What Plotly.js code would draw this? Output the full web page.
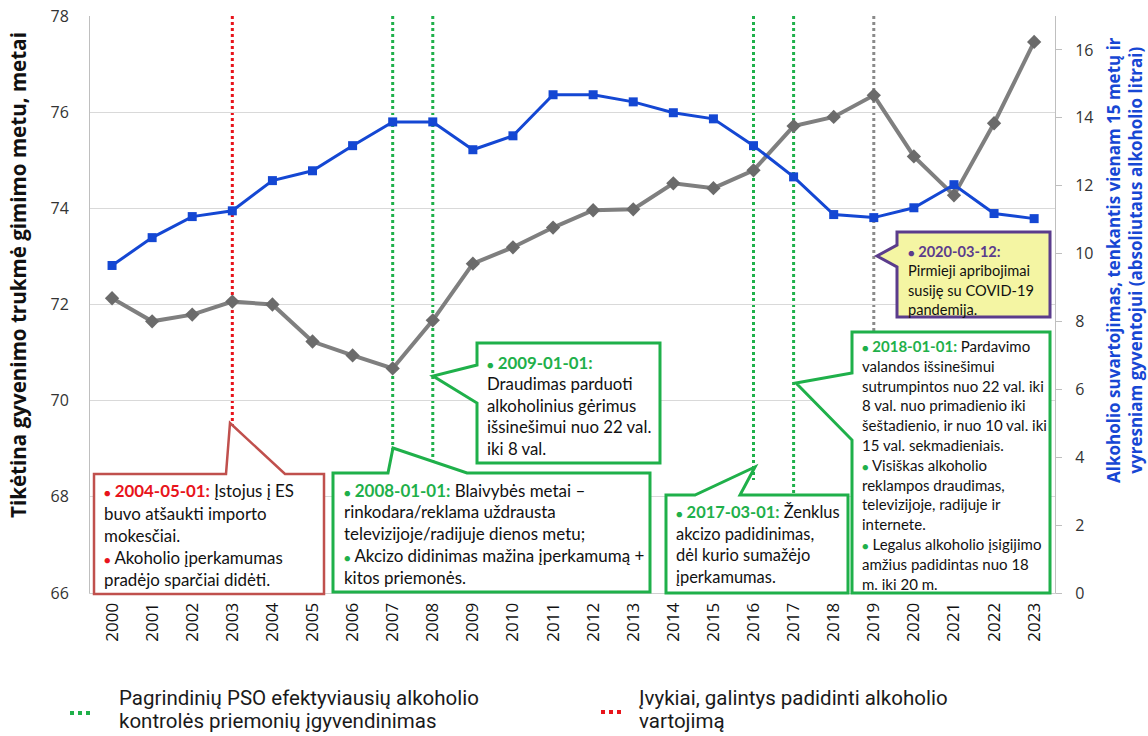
<!DOCTYPE html>
<html><head><meta charset="utf-8">
<script src="https://cdn.plot.ly/plotly-3.0.1.min.js"></script>
<style>html,body{margin:0;padding:0;background:#fff}#chart{width:1148px;height:736px}</style>
</head><body><div id="chart"></div>
<script>
// ---- data ----
const years = [2000,2001,2002,2003,2004,2005,2006,2007,2008,2009,2010,2011,2012,2013,2014,2015,2016,2017,2018,2019,2020,2021,2022,2023];
const xTickLabels = years.map(String);
const lifeExpectancy = [72.13,71.65,71.79,72.06,72.0,71.23,70.94,70.67,71.67,72.85,73.19,73.6,73.96,73.98,74.52,74.42,74.79,75.71,75.9,76.35,75.08,74.27,75.77,77.46];
const alcoholPerCapita = [9.65,10.47,11.09,11.26,12.15,12.44,13.18,13.88,13.88,13.06,13.47,14.68,14.68,14.47,14.15,13.97,13.18,12.26,11.15,11.06,11.35,12.03,11.18,11.03];
const leftTicks = [66,68,70,72,74,76,78];
const rightTicks = [0,2,4,6,8,10,12,14,16];
const redEventYears = [2003];
const greenEventYears = [2007,2008,2016,2017];
const grayEventYears = [2019];

const leftTitle = "Tikėtina gyvenimo trukmė gimimo metu, metai";
const rightTitleLines = ["Alkoholio suvartojimas, tenkantis vienam 15 metų ir","vyresniam gyventojui (absoliutaus alkoholio litrai)"];
const legendGreen = ["Pagrindinių PSO efektyviausių alkoholio","kontrolės priemonių įgyvendinimas"];
const legendRed = ["Įvykiai, galintys padidinti alkoholio","vartojimą"];

const RED = "#e8141b", GREEN = "#1fb04a", PURPLE = "#5b3c8c";
const B = () => "<span style='font-size:11px'>●</span> ";
const noteRed = [
  "<b><span style='color:"+RED+"'>"+B()+"2004-05-01:</span></b> Įstojus į ES",
  "buvo atšaukti importo","mokesčiai.",
  "<span style='color:"+RED+"'>"+B()+"</span>Akoholio įperkamumas",
  "pradėjo sparčiai didėti."];
const note2008 = [
  "<b><span style='color:"+GREEN+"'>"+B()+"2008-01-01:</span></b> Blaivybės metai –",
  "rinkodara/reklama uždrausta","televizijoje/radijuje dienos metu;",
  "<span style='color:"+GREEN+"'>"+B()+"</span>Akcizo didinimas mažina įperkamumą +",
  "kitos priemonės."];
const note2009 = [
  "<b><span style='color:"+GREEN+"'>"+B()+"2009-01-01:</span></b>",
  "Draudimas parduoti","alkoholinius gėrimus","išsinešimui nuo 22 val.","iki 8 val."];
const note2017 = [
  "<b><span style='color:"+GREEN+"'>"+B()+"2017-03-01:</span></b> Ženklus",
  "akcizo padidinimas,","dėl kurio sumažėjo","įperkamumas."];
const note2018 = [
  "<b><span style='color:"+GREEN+"'>"+B()+"2018-01-01:</span></b> Pardavimo",
  "valandos išsinešimui","sutrumpintos nuo 22 val. iki","8 val. nuo primadienio iki",
  "šeštadienio, ir nuo 10 val. iki","15 val. sekmadieniais.",
  "<span style='color:"+GREEN+"'>"+B()+"</span>Visiškas alkoholio",
  "reklampos draudimas,","televizijoje, radijuje ir","internete.",
  "<span style='color:"+GREEN+"'>"+B()+"</span>Legalus alkoholio įsigijimo",
  "amžius padidintas nuo 18","m. iki 20 m."];
const note2020 = [
  "<b><span style='color:"+PURPLE+"'>"+B()+"2020-03-12:</span></b>",
  "Pirmieji apribojimai","susiję su COVID-19","pandemija."];

// ---- layout helpers ----
const PL=90, PR=1055, PT=16, PB=593;
const px = x => (x-PL)/(PR-PL);
const py = y => (PB-y)/(PB-PT);
const path = pts => "M " + pts.map(p => px(p[0]).toFixed(5)+","+py(p[1]).toFixed(5)).join(" L ") + " Z";

const ctx = document.createElement("canvas").getContext("2d");
function fit(pairs, family, weight){
  let s = 0;
  pairs.forEach(([t,w]) => { ctx.font = (weight||"normal")+" 100px "+family; s += 100*w/ctx.measureText(t).width; });
  return s/pairs.length;
}
const CF = "Lato, 'Noto Sans', sans-serif";
const sRed  = fit([["buvo atšaukti importo",162],["pradėjo sparčiai didėti.",167]], CF);
const s2008 = fit([["rinkodara/reklama uždrausta",213],["televizijoje/radijuje dienos metu;",240]], CF);
const s2009 = fit([["alkoholinius gėrimus",150],["Draudimas parduoti",145]], CF);
const s2017 = 0.97*fit([["akcizo padidinimas,",143],["dėl kurio sumažėjo",138]], CF);
const s2018 = fit([["valandos išsinešimui",132],["15 val. sekmadieniais.",142],["reklampos draudimas,",144]], CF);
const s2020 = fit([["Pirmieji apribojimai",127],["susiję su COVID-19",121]], CF);
const LF = "Roboto, sans-serif";
const sLeg = Math.min(20.5, fit([[legendGreen[0],415],[legendGreen[1],362],[legendRed[0],365]], LF));
const TF = "'Open Sans', sans-serif";
const sLeftTitle = fit([[leftTitle,486]], TF, "bold");
const sRightTitle = fit([[rightTitleLines[0],446]], TF, "bold");

const shapes = [];
const annotations = [];

function vline(yr, color, yEnd){
  shapes.push({type:"line", layer:"below", xref:"x", yref:"paper", x0:yr, x1:yr, y0:1, y1:py(yEnd),
    line:{color:color, width:3, dash:"dot"}});
}
redEventYears.forEach(y => vline(y, RED, 440));
greenEventYears.forEach((y,i) => vline(y, GREEN, [460,470,480,495][i]));
grayEventYears.forEach(y => vline(y, "#8a8a8a", 340));

function callout(pts, stroke, fill, width){
  shapes.push({type:"path", layer:"above", xref:"paper", yref:"paper", path:path(pts),
    fillcolor:fill, line:{color:stroke, width:width}});
}
function lines(arr, x, y0, dy, size){
  arr.forEach((t,i) => annotations.push({xref:"paper", yref:"paper", x:px(x), y:py(y0+i*dy),
    xanchor:"left", yanchor:"middle", showarrow:false, align:"left", text:t,
    font:{family:CF, size:size, color:"#111"}}));
}

callout([[94,474],[226,474],[230,423],[285,474],[324,474],[324,594],[94,594]], "#c0504d", "#fff", 2.5);
callout([[333,473],[388,473],[393,448],[467,473],[650,473],[650,592],[333,592]], GREEN, "#fff", 3);
callout([[477,343],[660,343],[660,463],[477,463],[477,403],[433,376],[477,365]], GREEN, "#fff", 3);
callout([[666,495],[695,495],[755,467],[740,495],[848,495],[848,593],[666,593]], GREEN, "#fff", 3);
callout([[852,332],[1050,332],[1050,593],[852,593],[852,440],[796,383],[852,373]], GREEN, "#fff", 3);
callout([[897,232],[1050,232],[1050,317],[897,317],[897,267],[877,256],[897,245]], PURPLE, "#f4f5a3", 3);

lines(noteRed, 102, 491, 22, sRed);
lines(note2008, 342, 490, 21.8, s2008);
lines(note2009, 485, 362, 21.5, s2009);
lines(note2017, 674, 512, 21.7, s2017);
lines(note2018, 860, 346, 19.8, s2018);
lines(note2020, 906, 251, 19.5, s2020);

// axis titles
annotations.push({xref:"paper", yref:"paper", x:px(18), y:py(275), xanchor:"center", yanchor:"middle",
  showarrow:false, textangle:-90, text:"<b>"+leftTitle+"</b>",
  font:{family:TF, size:sLeftTitle, color:"#111"}});
annotations.push({xref:"paper", yref:"paper", x:px(1124), y:py(260), xanchor:"center", yanchor:"middle",
  showarrow:false, textangle:-90, text:"<b>"+rightTitleLines.join("<br>")+"</b>",
  font:{family:TF, size:sRightTitle, color:"#1747d4"}});

// legend (custom)
shapes.push({type:"line", xref:"paper", yref:"paper", x0:px(70), x1:px(94), y0:py(713), y1:py(713), line:{color:GREEN, width:4, dash:"dot"}});
shapes.push({type:"line", xref:"paper", yref:"paper", x0:px(601), x1:px(625), y0:py(712), y1:py(712), line:{color:RED, width:4, dash:"dot"}});
const legFont = {family:LF, size:sLeg, color:"#1a1a1a"};
legendGreen.forEach((t,i) => annotations.push({xref:"paper", yref:"paper", x:px(117), y:py(698+i*23), xanchor:"left", yanchor:"middle", showarrow:false, text:t, font:legFont}));
legendRed.forEach((t,i) => annotations.push({xref:"paper", yref:"paper", x:px(637), y:py(698+i*23), xanchor:"left", yanchor:"middle", showarrow:false, text:t, font:legFont}));

const traces = [
  {x:years, y:lifeExpectancy, type:"scatter", mode:"lines+markers", yaxis:"y", cliponaxis:false,
   line:{color:"#7f7f7f", width:4}, marker:{symbol:"diamond", size:11, color:"#6b6b6b"}},
  {x:years, y:alcoholPerCapita, type:"scatter", mode:"lines+markers", yaxis:"y2", cliponaxis:false,
   line:{color:"#1447d3", width:3}, marker:{symbol:"square", size:9, color:"#1447d3"}}
];

const layout = {
  width:1148, height:736, margin:{l:PL, r:1148-PR, t:PT, b:736-PB},
  paper_bgcolor:"#fff", plot_bgcolor:"#fff", showlegend:false,
  font:{family:TF},
  xaxis:{type:"linear", range:[1999.45,2023.52], tickvals:years, ticktext:xTickLabels, tickangle:-90,
    tickfont:{size:17, color:"#111"}, showgrid:false, zeroline:false, showline:true, linecolor:"#d0d0d0", ticks:"", ticklabelstandoff:2},
  yaxis:{range:[66,78], tickvals:leftTicks, tickfont:{size:16, color:"#333"}, showgrid:true, gridcolor:"#d9d9d9",
    zeroline:false, showline:true, linecolor:"#bfbfbf", ticks:"", ticklabelstandoff:17},
  yaxis2:{range:[0,17], tickvals:rightTicks, overlaying:"y", side:"right", tickfont:{size:16, color:"#333"},
    showgrid:false, zeroline:false, showline:true, linecolor:"#bfbfbf", ticks:"outside", ticklen:6, tickcolor:"#bfbfbf", ticklabelstandoff:10},
  shapes:shapes, annotations:annotations
};
Plotly.newPlot("chart", traces, layout, {displayModeBar:false, staticPlot:true});
</script></body></html>
